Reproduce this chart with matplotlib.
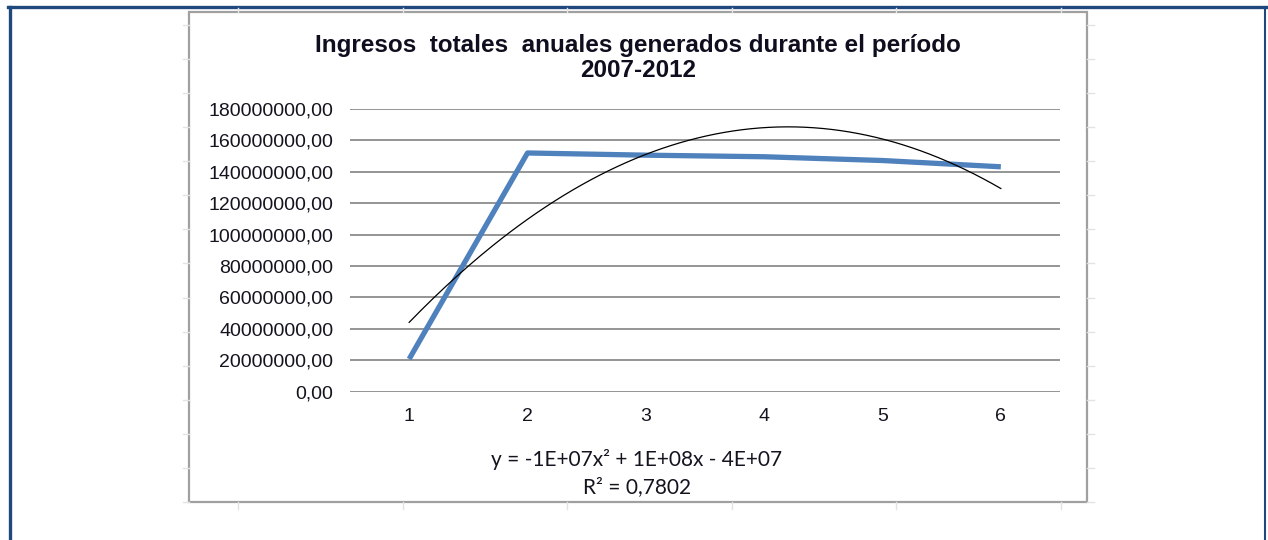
import numpy as np
import matplotlib.pyplot as plt
from matplotlib.lines import Line2D
from matplotlib.patches import Rectangle

# datos
periodos = [1, 2, 3, 4, 5, 6]
ingresos = [20.8e6, 152.0e6, 150.6e6, 149.6e6, 147.2e6, 143.2e6]
y_ticks = [0, 20e6, 40e6, 60e6, 80e6, 100e6, 120e6, 140e6, 160e6, 180e6]
titulo = 'Ingresos  totales  anuales generados durante el período\n2007-2012'
ecuacion = 'y = -1E+07x² + 1E+08x - 4E+07'
r2_texto = 'R² = 0,7802'


def fmt(v):
    return '{:.2f}'.format(v).replace('.', ',')


def main():
    W, H = 1268, 540
    fig = plt.figure(figsize=(W / 100, H / 100), dpi=100)

    def fx(px):
        return px / W

    def fy(py):
        return 1 - py / H

    # marco azul exterior
    fig.add_artist(Line2D([fx(9.5), fx(9.5)], [fy(6.5), 0], color='#1F497D', lw=2.4))
    fig.add_artist(Line2D([fx(8), fx(1266)], [fy(6.5), fy(6.5)], color='#1F497D', lw=2.4))
    fig.add_artist(Line2D([fx(1265), fx(1265)], [fy(6.5), 0], color='#1F497D', lw=1.5))

    # marcas tenues de celdas de la hoja
    for k in range(15):
        yy = 25 + k * 34.07
        fig.add_artist(Line2D([fx(183), fx(189)], [fy(yy), fy(yy)], color='#E3E3E3', lw=1))
        fig.add_artist(Line2D([fx(1087), fx(1094)], [fy(yy), fy(yy)], color='#E3E3E3', lw=1))
    for k in range(6):
        xx = 238 + k * 164.6
        fig.add_artist(Line2D([fx(xx), fx(xx)], [fy(502), fy(509)], color='#E3E3E3', lw=1))
        fig.add_artist(Line2D([fx(xx), fx(xx)], [fy(8), fy(12)], color='#E3E3E3', lw=1))

    # borde del area del grafico
    fig.add_artist(Rectangle((fx(189), fy(502)), fx(1087) - fx(189), fy(12) - fy(502),
                             fill=False, edgecolor='#A0A0A0', lw=1.6))

    ax = fig.add_axes([fx(350), fy(391.7), fx(1060) - fx(350), fy(109) - fy(391.7)])
    ax.set_xlim(0.5, 6.5)
    ax.set_ylim(0, 180e6)
    ax.set_yticks(y_ticks)
    ax.set_yticklabels([fmt(v) for v in y_ticks])
    ax.set_xticks(periodos)
    ax.set_xticklabels([str(p) for p in periodos])
    for s in ax.spines.values():
        s.set_visible(False)
    ax.grid(axis='y', color='#8C8C8C', lw=1.3)
    ax.set_axisbelow(True)
    ax.tick_params(length=0, labelsize=14, colors='#14141F')
    ax.tick_params(axis='y', pad=12)
    ax.tick_params(axis='x', pad=12)
    for lab in ax.get_xticklabels() + ax.get_yticklabels():
        lab.set_family(['Liberation Sans', 'DejaVu Sans'])

    ax.plot(periodos, ingresos, color='#4F81BD', lw=3.8, solid_capstyle='butt', zorder=3)

    # linea de tendencia polinomica de grado 2
    coef = np.polyfit(periodos, ingresos, 2)
    xs = np.linspace(periodos[0], periodos[-1], 200)
    ax.plot(xs, np.polyval(coef, xs), color='black', lw=0.9, zorder=4)

    fig.text(fx(638), fy(58), titulo, ha='center', va='center', fontsize=17.5,
             fontweight='bold', family=['Liberation Sans', 'DejaVu Sans'],
             color='#0E0E1E', linespacing=1.13)
    fig.text(fx(637), fy(460), ecuacion, ha='center', va='center', fontsize=15,
             family=['Lato', 'DejaVu Sans'], color='#14141F')
    fig.text(fx(637), fy(487), r2_texto, ha='center', va='center', fontsize=15,
             family=['Lato', 'DejaVu Sans'], color='#14141F')

    fig.savefig('out.png', dpi=100)


if __name__ == '__main__':
    main()
